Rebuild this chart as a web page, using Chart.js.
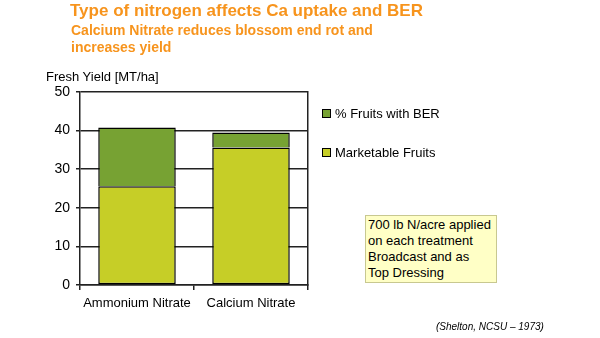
<!DOCTYPE html>
<html>
<head>
<meta charset="utf-8">
<script src="https://cdn.jsdelivr.net/npm/chart.js@4"></script>
<style>
  body { margin: 0; background: #fff; font-family: "Liberation Sans", Arial, sans-serif; }
  #wrap { position: relative; width: 600px; height: 338px; overflow: hidden; }
  canvas { position: absolute; left: 0; top: 0; }
  .t { position: absolute; white-space: nowrap; }
  .title { left: 70px; top: 1px; color: #F7941D; font-weight: bold; font-size: 17px; }
  .sub { left: 71px; top: 22px; color: #F7941D; font-weight: bold; font-size: 14px; line-height: 17px; }
  .ytitle { left: 46px; top: 69px; font-size: 13px; color: #000; }
  .leg { font-size: 13px; color: #000; left: 322px; }
  .leg i { display: inline-block; width: 7px; height: 7px; border: 1px solid #000; margin-right: 4px; vertical-align: 0px; }
  .note { left: 365px; top: 215px; width: 128px; height: 65px; background: #FFFFC6; border: 1px solid #c8c890;
          font-size: 13px; line-height: 16px; padding: 1px 0 0 2px; }
  .cite { left: 436px; top: 321px; font-size: 10px; font-style: italic; color: #000; }
</style>
</head>
<body>
<div id="wrap">
  <canvas id="c" width="600" height="338"></canvas>
  <div class="t title">Type of nitrogen affects Ca uptake and BER</div>
  <div class="t sub">Calcium Nitrate reduces blossom end rot and<br>increases yield</div>
  <div class="t ytitle">Fresh Yield [MT/ha]</div>
  <div id="legend"></div>
  <div class="t note">700 lb N/acre applied<br>on each treatment<br>Broadcast and as<br>Top Dressing</div>
  <div class="t cite">(Shelton, NCSU – 1973)</div>
</div>
<script>
const categories = ['Ammonium Nitrate', 'Calcium Nitrate'];
const marketable = [25.6, 35.6];
const berFruits = [15.2, 3.9];
const seriesNames = ['Marketable Fruits', '% Fruits with BER'];
const seriesColors = ['#C6CE27', '#77A233'];
const yMax = 50;

// legend (reversed order, like the original)
const legendEl = document.getElementById('legend');
[[1, 106], [0, 145]].forEach(([i, top]) => {
    const d = document.createElement('div');
    d.className = 't leg';
    d.style.top = top + 'px';
    d.innerHTML = '<i style="background:' + seriesColors[i] + '"></i>' + seriesNames[i];
    legendEl.appendChild(d);
});

const ctx = document.getElementById('c').getContext('2d');
new Chart(ctx, {
    type: 'bar',
    data: {
        labels: categories,
        datasets: [{
            label: seriesNames[0],
            data: marketable,
            backgroundColor: seriesColors[0],
            borderColor: '#000',
            borderWidth: 1.5,
            borderSkipped: false,
            barPercentage: 0.68,
            categoryPercentage: 1
        }, {
            label: seriesNames[1],
            data: berFruits,
            backgroundColor: seriesColors[1],
            borderColor: '#000',
            borderWidth: { top: 1.5, left: 1.5, right: 1.5, bottom: 0 },
            borderSkipped: false,
            barPercentage: 0.68,
            categoryPercentage: 1
        }]
    },
    options: {
        responsive: false,
        animation: false,
        layout: { padding: { left: 0, top: 92, right: 292, bottom: 0 } },
        plugins: { legend: { display: false }, tooltip: { enabled: false } },
        scales: {
            x: {
                stacked: true,
                afterFit: s => { s.height = 53; },
                grid: { display: true, drawOnChartArea: false, offset: true, tickLength: 5, color: '#222', lineWidth: 1.5 },
                border: { color: '#222', width: 1.5 },
                ticks: { color: '#000', font: { family: 'Liberation Sans', size: 13 }, padding: 6 }
            },
            y: {
                stacked: true,
                min: 0,
                max: yMax,
                afterFit: s => { s.width = 80; },
                grid: {
                    color: c => (c.tick.value % 10 === 0 ? '#222' : 'transparent'),
                    tickColor: '#222',
                    tickLength: 4,
                    lineWidth: 1.5
                },
                border: { color: '#222', width: 1.5 },
                ticks: {
                    stepSize: 5,
                    color: '#000',
                    padding: 6,
                    font: { family: 'Liberation Sans', size: 14 },
                    callback: v => (v % 10 === 0 ? v : '')
                }
            },
            y2: {
                position: 'right',
                min: 0,
                max: yMax,
                afterFit: s => { s.width = 0; },
                grid: { display: false },
                border: { color: '#222', width: 1.5 },
                ticks: { display: false }
            }
        }
    }
});
</script>
</body>
</html>
